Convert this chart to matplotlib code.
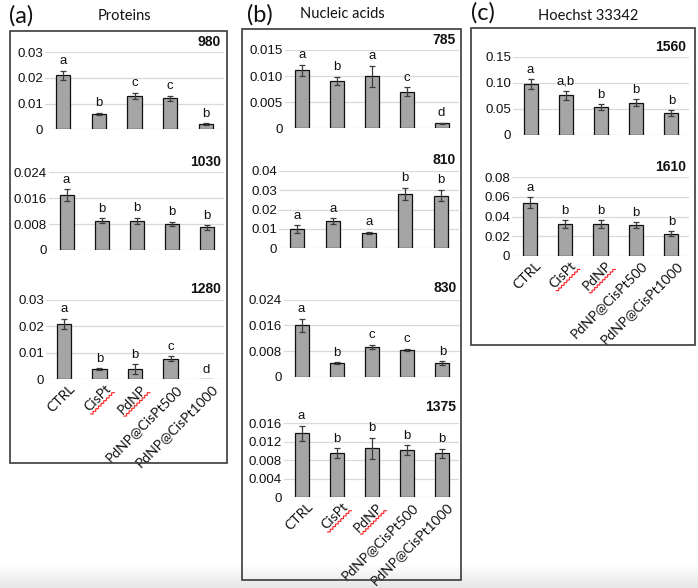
import matplotlib
matplotlib.use('Agg')
import matplotlib.pyplot as plt
import numpy as np
from matplotlib.lines import Line2D
from matplotlib.patches import Rectangle
from matplotlib.transforms import ScaledTranslation

plt.rcParams['font.family'] = ['Liberation Sans', 'DejaVu Sans']

W, H = 698, 588

categories = ['CTRL', 'CisPt', 'PdNP', 'PdNP@CisPt500', 'PdNP@CisPt1000']
underlined = ['CisPt', 'PdNP']

# ---- (a) Proteins ----
p980_vals = [0.021, 0.006, 0.0131, 0.0121, 0.002]
p980_err = [0.0018, 0.0005, 0.0012, 0.001, 0.0003]
p980_letters = ['a', 'b', 'c', 'c', 'b']
p980_yticks = ['0', '0.01', '0.02', '0.03']

p1030_vals = [0.0169, 0.009, 0.009, 0.0081, 0.007]
p1030_err = [0.0019, 0.0008, 0.0009, 0.0007, 0.0007]
p1030_letters = ['a', 'b', 'b', 'b', 'b']
p1030_yticks = ['0', '0.008', '0.016', '0.024']

p1280_vals = [0.0209, 0.0039, 0.0039, 0.0078, 0.0]
p1280_err = [0.002, 0.0003, 0.0018, 0.0009, 0.0]
p1280_letters = ['a', 'b', 'b', 'c', 'd']
p1280_yticks = ['0', '0.01', '0.02', '0.03']

# ---- (b) Nucleic acids ----
n785_vals = [0.0111, 0.0091, 0.010, 0.007, 0.001]
n785_err = [0.0011, 0.0008, 0.002, 0.0009, 0.0001]
n785_letters = ['a', 'b', 'a', 'c', 'd']
n785_yticks = ['0', '0.005', '0.010', '0.015']

n810_vals = [0.010, 0.0141, 0.0081, 0.0281, 0.0272]
n810_err = [0.002, 0.0014, 0.0005, 0.003, 0.003]
n810_letters = ['a', 'a', 'a', 'b', 'b']
n810_yticks = ['0', '0.01', '0.02', '0.03', '0.04']

n830_vals = [0.016, 0.0042, 0.0093, 0.0083, 0.0042]
n830_err = [0.0021, 0.0003, 0.0007, 0.0004, 0.0007]
n830_letters = ['a', 'b', 'c', 'c', 'b']
n830_yticks = ['0', '0.008', '0.016', '0.024']

n1375_vals = [0.0138, 0.0096, 0.0106, 0.0102, 0.0095]
n1375_err = [0.0017, 0.001, 0.0023, 0.0011, 0.001]
n1375_letters = ['a', 'b', 'b', 'b', 'b']
n1375_yticks = ['0', '0.004', '0.008', '0.012', '0.016']

# ---- (c) Hoechst 33342 ----
h1560_vals = [0.0974, 0.0756, 0.0526, 0.0615, 0.0417]
h1560_err = [0.0095, 0.009, 0.006, 0.0064, 0.005]
h1560_letters = ['a', 'a,b', 'b', 'b', 'b']
h1560_yticks = ['0', '0.05', '0.10', '0.15']

h1610_vals = [0.0542, 0.0325, 0.0325, 0.0312, 0.0227]
h1610_err = [0.0056, 0.004, 0.004, 0.003, 0.0024]
h1610_letters = ['a', 'b', 'b', 'b', 'b']
h1610_yticks = ['0', '0.02', '0.04', '0.06', '0.08']

fig = plt.figure(figsize=(W / 100, H / 100), dpi=100)
fig.patch.set_facecolor('white')

# faint screenshot shading at the bottom
gax = fig.add_axes([0, 0, 1, 24 / H])
gax.set_zorder(-5)
grad = np.linspace(0, 1, 50).reshape(-1, 1)
gax.imshow(grad, aspect='auto', cmap=matplotlib.colors.LinearSegmentedColormap.from_list('g', ['#e6e6e6', '#ffffff']),
           extent=[0, 1, 0, 1], origin='lower')
gax.axis('off')

CALIBRI = ['Lato', 'DejaVu Sans']
PT = 72 / 100  # points per pixel


def px_axes(x0, x1, ytop, ybot):
    return fig.add_axes([x0 / W, 1 - ybot / H, (x1 - x0) / W, (ybot - ytop) / H])


def draw(ax, title, vals, errs, letters, ytl, show_x, title_dy=10):
    x = np.arange(len(vals))
    yt = [float(t) for t in ytl]
    ax.set_xlim(-0.5, len(vals) - 0.5)
    ax.set_ylim(0, yt[-1])
    ax.set_yticks(yt)
    ax.set_yticklabels(ytl)
    for y in yt:
        ax.axhline(y, color='#d9d9d9', lw=0.9, zorder=0)
    ax.bar(x, vals, width=0.4, color='#a5a5a5', edgecolor='#111111', lw=0.9, zorder=2)
    e = np.array(errs)
    m = e > 0
    ax.errorbar(x[m], np.array(vals)[m], yerr=e[m], fmt='none', ecolor='#3c3c3c',
                elinewidth=0.9, capsize=2.3, capthick=0.9, zorder=3)
    for xi, v, er, l in zip(x, vals, errs, letters):
        ax.annotate(l, (xi, v + er), xytext=(0, 2.5), textcoords='offset points',
                    ha='center', va='bottom', fontsize=9.5, color='#111111')
    ax.annotate(title, (1, 1), xycoords='axes fraction', xytext=(-3 * PT, title_dy * PT),
                textcoords='offset points', ha='right', va='center', fontweight='bold',
                fontsize=10, color='#111111')
    for s in ax.spines.values():
        s.set_visible(False)
    ax.set_facecolor('none')
    ax.tick_params(axis='y', length=0, pad=1.5, labelsize=9.5, labelcolor='#111111')
    ax.set_xticks(x)
    if show_x:
        ax.set_xticklabels(categories, rotation=45, ha='right', va='top',
                           rotation_mode='anchor', fontsize=10, family=CALIBRI, color='#111111')
        ax.tick_params(axis='x', length=0, pad=2.5)
        off = ScaledTranslation(5 / 100, 0, fig.dpi_scale_trans)
        for lab in ax.get_xticklabels():
            lab.set_transform(lab.get_transform() + off)
    else:
        ax.set_xticklabels([])
        ax.tick_params(axis='x', length=0)


bottom_axes = []
# (a)
ax = px_axes(45, 224, 52.3, 129.3)
draw(ax, '980', p980_vals, p980_err, p980_letters, p980_yticks, False)
ax = px_axes(49, 224, 172.3, 250)
draw(ax, '1030', p1030_vals, p1030_err, p1030_letters, p1030_yticks, False)
ax = px_axes(46, 224, 300, 379.3)
draw(ax, '1280', p1280_vals, p1280_err, p1280_letters, p1280_yticks, True, 10.7)
bottom_axes.append(ax)
# (b)
ax = px_axes(285, 459, 50, 128.3)
draw(ax, '785', n785_vals, n785_err, n785_letters, n785_yticks, False)
ax = px_axes(279, 459, 170.7, 248.3)
draw(ax, '810', n810_vals, n810_err, n810_letters, n810_yticks, False, 10.7)
ax = px_axes(284, 460, 299.7, 376.7)
draw(ax, '830', n830_vals, n830_err, n830_letters, n830_yticks, False, 11.7)
ax = px_axes(284, 459, 423.3, 497.3)
draw(ax, '1375', n1375_vals, n1375_err, n1375_letters, n1375_yticks, True, 16)
bottom_axes.append(ax)
# (c)
ax = px_axes(513, 689, 56.7, 134.7)
draw(ax, '1560', h1560_vals, h1560_err, h1560_letters, h1560_yticks, False)
ax = px_axes(512, 689, 177.3, 256)
draw(ax, '1610', h1610_vals, h1610_err, h1610_letters, h1610_yticks, True)
bottom_axes.append(ax)

# panel boxes
for (x0, y0, x1, y1) in [(10, 31, 227, 463), (242, 29, 461, 580), (471, 28, 695, 345)]:
    fig.add_artist(Rectangle((x0 / W, 1 - y1 / H), (x1 - x0) / W, (y1 - y0) / H,
                             transform=fig.transFigure, fill=False, edgecolor='#3a3a3a', lw=1.2))

# panel labels and titles
for (txt, x, y) in [('(a)', 21, 16), ('(b)', 260, 15), ('(c)', 482.5, 13)]:
    fig.text(x / W, 1 - y / H, txt, ha='center', va='center', fontsize=17, family=CALIBRI, color='#111111')
for (txt, x, y) in [('Proteins', 124.5, 16), ('Nucleic acids', 342.5, 13.5), ('Hoechst 33342', 588.5, 16.5)]:
    fig.text(x / W, 1 - y / H, txt, ha='center', va='center', fontsize=10.5, family=CALIBRI, color='#111111')

# red spell-check squiggles under some tick labels
fig.canvas.draw()
renderer = fig.canvas.get_renderer()
inv = fig.transFigure.inverted()
th = np.deg2rad(45)
u = np.array([np.cos(th), np.sin(th)])
vd = np.array([np.sin(th), -np.cos(th)])
for ax in bottom_axes:
    for lab in ax.get_xticklabels():
        if lab.get_text() in underlined:
            anchor = lab.get_transform().transform(lab.get_position())
            fp = lab.get_fontproperties()
            w, h, d = renderer.get_text_width_height_descent(lab.get_text(), fp, ismath=False)
            hl, _, dl = renderer.get_text_width_height_descent('lp', fp, ismath=False)
            base = anchor + (hl - dl + 4.0) * vd
            n = int(w / 1.8) + 1
            ts = np.linspace(0, w, n)
            amps = np.where(np.arange(n) % 2 == 0, -0.9, 0.9)
            pts = np.array([base - (w - t) * u + a * vd for t, a in zip(ts, amps)])
            fpts = inv.transform(pts)
            fig.add_artist(Line2D(fpts[:, 0], fpts[:, 1], transform=fig.transFigure,
                                  color='#ff2020', lw=0.8))

fig.savefig('out.png', dpi=100, facecolor='white')
